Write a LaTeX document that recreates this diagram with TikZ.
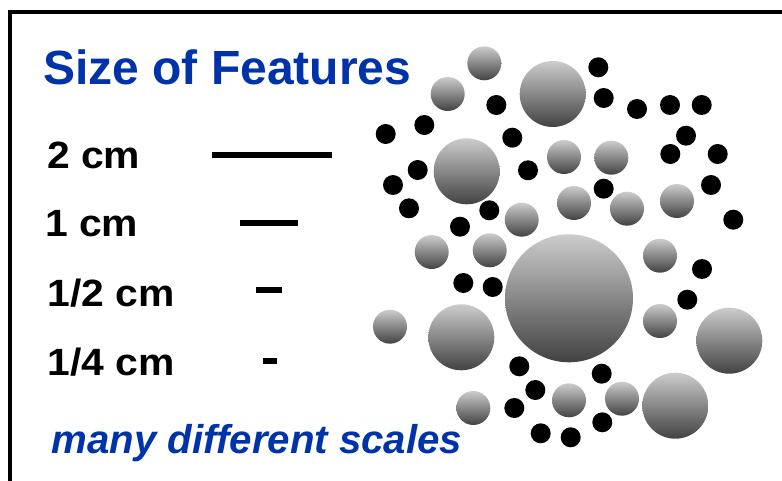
\documentclass[tikz,border=0pt]{standalone}
\usepackage{fontspec}
\setsansfont{Liberation Sans}
\newfontfamily\widesans[FakeStretch=1.075]{Liberation Sans}
\usepackage{tikz}
\usetikzlibrary{positioning}

\definecolor{featblue}{RGB}{0,51,170}

\begin{document}
\begin{tikzpicture}[
        x=1pt, y=-1pt,
        label/.style={anchor=base west, inner sep=0pt, font=\widesans\bfseries\fontsize{38}{40}\selectfont},
        heading/.style={anchor=base west, inner sep=0pt, text=featblue, font=\sffamily\bfseries\fontsize{48}{50}\selectfont},
        bar/.style={line width=6pt},
        grain/.style={top color=black!20, bottom color=black!74},
        dot/.style={fill=black}
    ]
        \useasboundingbox (0,0) rectangle (782,481);
        \draw[line width=4pt] (10,481) -- (10,12) -- (782,12);

        \node[heading] (title) at (43,85) {Size of Features};
        \node[label] (l2) at (46.8,168.3) {2 cm};
        \node[label] (l1) at (44.8,237) {1 cm};
        \node[label] (lhalf) at (47.3,306) {1/2 cm};
        \node[label] (lquarter) at (47.3,375) {1/4 cm};
        \node[heading, font=\sffamily\bfseries\itshape\fontsize{40.2}{42}\selectfont] (scales) at (51.5,453) {many different scales};

        \draw[bar] (212,154.7) -- (332,154.7);
        \draw[bar] (240,223) -- (298,223);
        \draw[bar] (256,290.3) -- (282,290.3);
        \draw[bar] (263,361.3) -- (277,361.3);

        % grey particles
        \foreach \x/\y/\r in {484.3/63.3/17, 447.7/94/17, 552.7/94/33, 466.7/171.3/33, 564/157/17,
                611.3/157.7/17, 574/203/17, 627/208.7/17, 677/201/17, 521.7/219.7/17, 431.7/252/17,
                489.7/250.3/17, 569/298.3/64, 660/255.7/17, 390/326.7/17, 461.3/337.3/33, 660/321/17,
                729.3/340.7/33, 473.3/408/17, 569/400.3/17, 622/398.7/17, 675.3/405.7/33}
            \shade[grain] (\x,\y) circle (\r);

        % black particles
        \foreach \x/\y in {598.3/67.3, 603.7/98, 637/109, 670/105, 701.7/105, 496.3/105, 424.3/125,
                385.7/134, 512.3/137.7, 686/135.7, 670.3/154, 717.7/154, 417.7/170, 393/185, 528/170.3,
                603.7/188.7, 711/185, 409/208.3, 489.3/210.3, 460/226.7, 733.3/219.7, 463.3/283,
                492.7/287, 702/269, 687.3/299.7, 519.3/366.3, 601.7/373.7, 535.3/390, 514.3/408,
                602.3/422.3, 540.7/433.3, 570.7/437.3}
            \fill[dot] (\x,\y) circle (10);
    \end{tikzpicture}
\end{document}
